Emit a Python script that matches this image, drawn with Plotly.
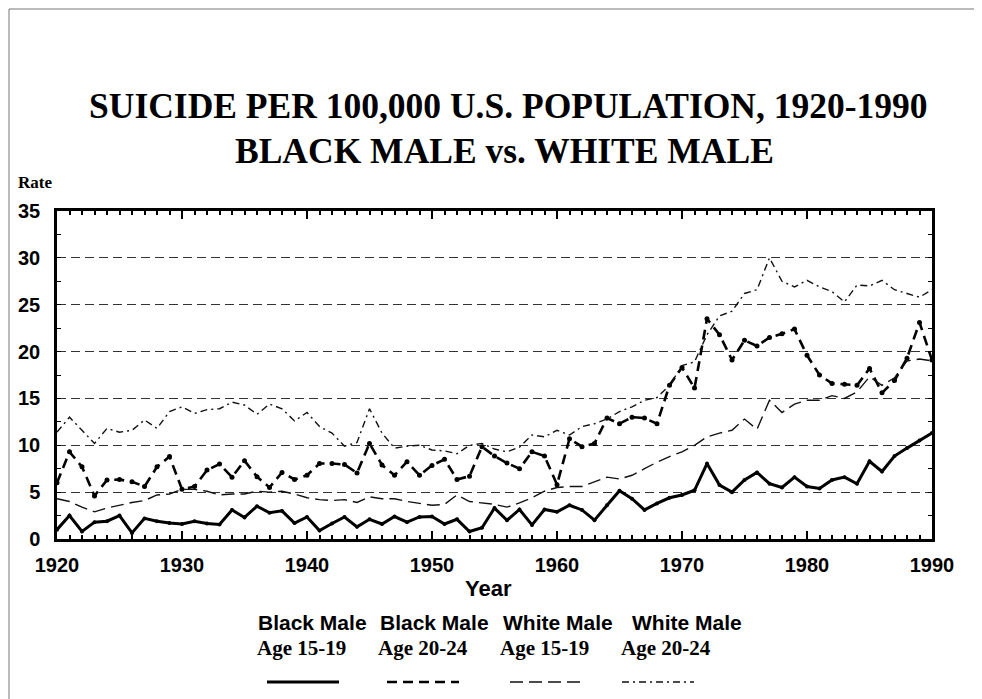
import plotly.graph_objects as go

years = list(range(1920, 1991))

black_15_19 = [1.0, 2.5, 0.8, 1.8, 1.9, 2.5, 0.65, 2.2, 1.9, 1.7,
               1.6, 1.9, 1.65, 1.55, 3.1, 2.3, 3.5, 2.8, 3.0, 1.7,
               2.35, 0.9, 1.65, 2.35, 1.3, 2.1, 1.6, 2.4, 1.8, 2.35,
               2.4, 1.6, 2.1, 0.8, 1.2, 3.3, 2.0, 3.15, 1.5, 3.15,
               2.9, 3.6, 3.1, 2.0, 3.6, 5.15, 4.3, 3.1, 3.8, 4.4,
               4.7, 5.2, 8.05, 5.75, 5.0, 6.3, 7.1, 5.9, 5.5, 6.6,
               5.6, 5.4, 6.3, 6.6, 5.9, 8.3, 7.2, 8.85, 9.7, 10.5,
               11.3]

black_20_24 = [6.0, 9.3, 7.7, 4.6, 6.3, 6.35, 6.1, 5.6, 7.7, 8.8,
               5.3, 5.6, 7.35, 8.0, 6.6, 8.35, 6.65, 5.5, 7.1, 6.35,
               6.8, 8.05, 8.05, 7.95, 7.05, 10.2, 7.9, 6.8, 8.25, 6.8,
               7.85, 8.5, 6.35, 6.7, 9.85, 8.85, 8.1, 7.5, 9.3, 8.85,
               5.8, 10.7, 9.85, 10.2, 12.9, 12.3, 13.0, 12.9, 12.3, 16.4,
               18.3, 16.1, 23.5, 21.8, 19.1, 21.2, 20.6, 21.5, 21.9, 22.4,
               19.6, 17.5, 16.6, 16.5, 16.4, 18.2, 15.6, 16.9, 19.3, 23.1,
               19.1]

white_15_19 = [4.3, 4.0, 3.4, 2.9, 3.3, 3.6, 3.9, 4.1, 4.7, 4.8,
               5.3, 5.3, 5.1, 4.7, 4.8, 4.8, 5.1, 5.0, 5.1, 4.8,
               4.4, 4.2, 4.1, 4.2, 3.9, 4.5, 4.3, 4.3, 4.0, 3.8,
               3.6, 3.7, 4.7, 4.0, 3.85, 3.7, 3.4, 3.85, 4.4, 5.1,
               5.5, 5.6, 5.6, 6.1, 6.6, 6.4, 6.8, 7.5, 8.2, 8.8,
               9.3, 10.0, 10.9, 11.3, 11.6, 12.8, 11.7, 14.8, 13.5, 14.4,
               14.8, 14.8, 15.3, 15.0, 15.7, 17.3, 16.4, 17.2, 19.0, 19.2,
               19.0]

white_20_24 = [11.4, 13.0, 11.6, 10.2, 11.8, 11.4, 11.6, 12.7, 11.8, 13.6,
               14.1, 13.4, 13.8, 13.9, 14.6, 14.3, 13.3, 14.4, 13.9, 12.6,
               13.5, 12.0, 11.3, 9.9, 10.3, 13.9, 11.3, 9.7, 9.9, 10.0,
               9.5, 9.4, 9.1, 10.0, 10.2, 9.6, 9.3, 9.8, 11.1, 10.9,
               11.6, 11.1, 12.0, 12.3, 12.8, 13.6, 14.1, 14.8, 15.1, 16.4,
               18.5, 18.9, 21.8, 23.8, 24.3, 26.2, 26.6, 30.0, 27.5, 26.9,
               27.6, 26.9, 26.4, 25.3, 27.1, 27.0, 27.6, 26.6, 26.2, 25.8,
               26.6]

legend_top = ["Black Male", "Black Male", "White Male", "White Male"]
legend_bottom = ["Age 15-19", "Age 20-24", "Age 15-19", "Age 20-24"]

title_line1 = "SUICIDE PER 100,000 U.S. POPULATION, 1920-1990"
title_line2 = "BLACK MALE vs. WHITE MALE"

# page is offset by the browser's 8px body margin
OFF = 8
W, H = 982 - OFF, 699 - OFF
L, R, T, B = 57 - OFF, 50, 211 - OFF, 160
PW = W - L - R
PH = H - T - B


def px(xp):  # page pixel x -> paper
    return (xp - OFF - L) / PW


def py(yp):  # page pixel y -> paper
    return (H - B - (yp - OFF)) / PH


styles = [
    dict(color="black", width=3, dash="solid", msize=4),
    dict(color="black", width=2.6, dash="10px,6px", msize=5),
    dict(color="#111", width=1.4, dash="13px,6px", msize=0),
    dict(color="#111", width=1.4, dash="7px,4px,2px,4px", msize=0),
]
series = [black_15_19, black_20_24, white_15_19, white_20_24]

fig = go.Figure()
for vals, st, top, bot in zip(series, styles, legend_top, legend_bottom):
    fig.add_trace(go.Scatter(
        x=years, y=vals, name=f"{top} {bot}",
        mode="lines+markers" if st["msize"] else "lines",
        line=dict(color=st["color"], width=st["width"], dash=st["dash"]),
        marker=dict(size=st["msize"], color="black"),
        showlegend=False,
    ))

ann = []
for text, xc, yc in [(title_line1, 0.5 * (78 + 938), 106), (title_line2, 0.5 * (233 + 775), 151)]:
    ann.append(dict(text=text, xref="paper", yref="paper",
                    x=px(xc), y=py(yc), xanchor="center", yanchor="middle",
                    showarrow=False,
                    font=dict(family="Liberation Serif", size=35.5, color="black", weight="bold")))
ann.append(dict(text="Rate", xref="paper", yref="paper", x=px(16), y=py(183),
                xanchor="left", yanchor="middle", showarrow=False,
                font=dict(family="Liberation Serif", size=17, color="black", weight="bold")))
ann.append(dict(text="Year", xref="paper", yref="paper", x=px(488), y=py(588),
                xanchor="center", yanchor="middle", showarrow=False,
                font=dict(family="Liberation Sans", size=22, color="black", weight="bold")))

top_cx = [312, 434, 558, 687]
bot_cx = [301, 423, 544, 666]
samp_cx = [303, 423, 546, 658]
shapes = []
for i in range(4):
    ann.append(dict(text=legend_top[i], xref="paper", yref="paper",
                    x=px(top_cx[i]), y=py(622), xanchor="center", yanchor="middle",
                    showarrow=False,
                    font=dict(family="Liberation Sans", size=21, color="black", weight="bold")))
    ann.append(dict(text=legend_bottom[i], xref="paper", yref="paper",
                    x=px(bot_cx[i]), y=py(648), xanchor="center", yanchor="middle",
                    showarrow=False,
                    font=dict(family="Liberation Serif", size=21, color="black", weight="bold")))
    st = styles[i]
    shapes.append(dict(type="line", xref="paper", yref="paper",
                       x0=px(samp_cx[i] - 36), x1=px(samp_cx[i] + 36),
                       y0=py(682), y1=py(682),
                       line=dict(color=st["color"], width=st["width"], dash=st["dash"])))

# outer page frame
shapes.append(dict(type="line", xref="paper", yref="paper", x0=px(9), x1=px(9),
                   y0=py(9), y1=py(699), line=dict(color="#777", width=1)))
shapes.append(dict(type="line", xref="paper", yref="paper", x0=px(9), x1=px(982),
                   y0=py(9), y1=py(9), line=dict(color="#777", width=1)))

fig.update_layout(
    width=W, height=H,
    margin=dict(l=L, r=R, t=T, b=B, autoexpand=False),
    paper_bgcolor="white", plot_bgcolor="white",
    annotations=ann, shapes=shapes,
    showlegend=False,
)
fig.update_xaxes(
    range=[1920, 1990], dtick=10, tick0=1920,
    showline=True, linecolor="black", linewidth=2.5, mirror="ticks",
    ticks="inside", ticklen=8, tickwidth=1.5, tickcolor="black",
    minor=dict(ticks="inside", dtick=1, ticklen=4, tickcolor="black", showgrid=False),
    showgrid=False, zeroline=False,
    tickfont=dict(family="Liberation Sans", size=20, color="black", weight="bold"),
    ticklabelstandoff=6,
)
fig.update_yaxes(
    range=[0, 35], dtick=5, tick0=0,
    showline=True, linecolor="black", linewidth=2.5, mirror="ticks",
    ticks="inside", ticklen=4, tickcolor="black",
    minor=dict(ticks="inside", dtick=2.5, ticklen=4, tickcolor="black", showgrid=False),
    showgrid=True, gridcolor="#333", gridwidth=1, griddash="9px,5px",
    zeroline=False,
    tickfont=dict(family="Liberation Sans", size=20, color="black", weight="bold"),
    ticklabelstandoff=10,
)

fig.write_html("out.html")
